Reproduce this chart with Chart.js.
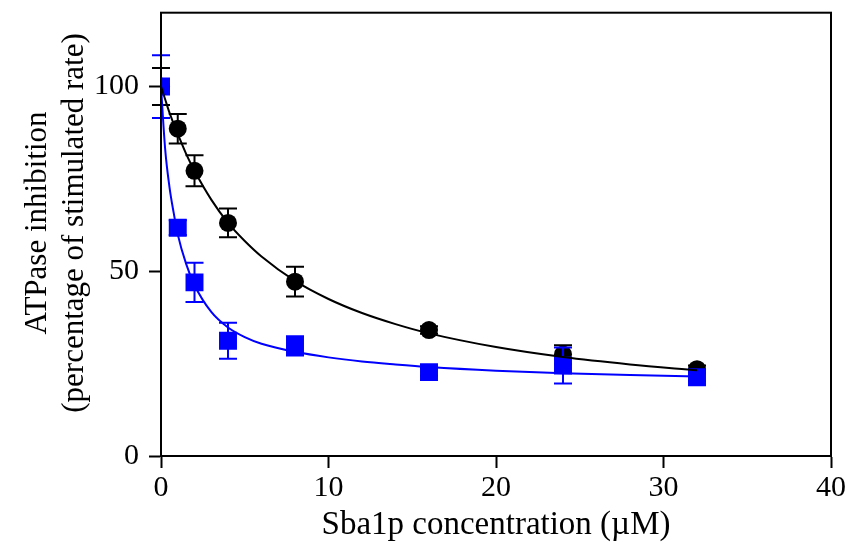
<!DOCTYPE html>
<html>
<head>
<meta charset="utf-8">
<script src="https://cdn.jsdelivr.net/npm/chart.js@4"></script>
<style>
    html, body { margin: 0; padding: 0; background: #fff; }
    #wrap { width: 855px; height: 557px; }
</style>
</head>
<body>
<div id="wrap"><canvas id="chart"></canvas></div>
<script>
// measured points (Sba1p concentration, uM)
const conc = [0, 1, 2, 4, 8, 16, 24, 32];
const blackVals = [100, 88.6, 77.2, 63.1, 47.2, 34.1, 27.5, 23.5];
const blackErr = [5, 4, 4.2, 3.9, 4, 1, 2.5, 1];
const blueVals = [100, 61.8, 47, 31.2, 29.8, 22.7, 24.5, 21.3];
const blueErr = [8.5, 2, 5.3, 4.9, 2.6, 1, 4.9, 1];

// fitted curves
const fitX = [0, 0.25, 0.5, 0.75, 1, 1.5, 2, 3, 4, 5, 6, 8, 10, 12, 14, 16, 20, 24, 28, 32];
const blackFit = [100, 96.5, 93, 90, 87.2, 81.8, 77.2, 69.4, 63.1, 58.2, 54, 47.4, 42.5, 38.7, 35.7, 33.2, 29.5, 26.8, 24.8, 23.2];
const blueFit = [100, 83, 73, 66, 60, 52, 46.3, 39, 34.8, 32.2, 30.4, 28.2, 26.7, 25.6, 24.8, 24.1, 23.1, 22.4, 21.9, 21.5];

const xTicks = [0, 10, 20, 30, 40];
const yTicks = [0, 50, 100];

const xTitle = 'Sba1p concentration (\u00b5M)';
const yTitle = ['ATPase inhibition', '(percentage of stimulated rate)'];

const serif = "'Liberation Serif', 'Times New Roman', serif";

function toPoints(xs, ys) {
    return xs.map((x, i) => ({ x: x, y: ys[i] }));
}

// error bars drawn right after each marker dataset
const errorBars = {
    id: 'errorBars',
    afterDatasetDraw(chart, args) {
        const ds = chart.data.datasets[args.index];
        if (!ds.errors) return;
        const ctx = chart.ctx;
        const xs = chart.scales.x, ys = chart.scales.y;
        ctx.save();
        ctx.strokeStyle = ds.borderColor;
        ctx.lineWidth = 2;
        ds.data.forEach((p, i) => {
            const e = ds.errors[i];
            const px = xs.getPixelForValue(p.x);
            const top = ys.getPixelForValue(p.y + e);
            const bot = ys.getPixelForValue(p.y - e);
            ctx.beginPath();
            ctx.moveTo(px, top); ctx.lineTo(px, bot);
            ctx.moveTo(px - 9, top); ctx.lineTo(px + 9, top);
            ctx.moveTo(px - 9, bot); ctx.lineTo(px + 9, bot);
            ctx.stroke();
        });
        ctx.restore();
    }
};

// closed frame around the plot area + the two-line y title
const frame = {
    id: 'frame',
    afterDraw(chart) {
        const a = chart.chartArea;
        const ctx = chart.ctx;
        ctx.save();
        ctx.strokeStyle = '#000';
        ctx.lineWidth = 2;
        ctx.strokeRect(a.left, a.top, a.right - a.left, a.bottom - a.top);

        ctx.translate(0, 223);
        ctx.rotate(-Math.PI / 2);
        ctx.fillStyle = '#000';
        ctx.font = '31px ' + serif;
        ctx.textAlign = 'center';
        ctx.textBaseline = 'middle';
        ctx.fillText(yTitle[0], 0, 38);
        ctx.fillText(yTitle[1], 0, 75);
        ctx.restore();
    }
};

new Chart(document.getElementById('chart'), {
    type: 'scatter',
    data: {
        datasets: [
            {
                label: 'black fit',
                data: toPoints(fitX, blackFit),
                showLine: true,
                borderColor: '#000',
                borderWidth: 2,
                pointRadius: 0,
                cubicInterpolationMode: 'monotone',
                order: 1
            },
            {
                label: 'blue fit',
                data: toPoints(fitX, blueFit),
                showLine: true,
                borderColor: '#0000ff',
                borderWidth: 2,
                pointRadius: 0,
                cubicInterpolationMode: 'monotone',
                order: 2
            },
            {
                label: 'black',
                data: toPoints(conc, blackVals),
                errors: blackErr,
                pointStyle: 'circle',
                pointRadius: 9,
                backgroundColor: '#000',
                borderColor: '#000',
                borderWidth: 0,
                order: 4
            },
            {
                label: 'blue',
                data: toPoints(conc, blueVals),
                errors: blueErr,
                pointStyle: 'rect',
                pointRadius: 12.7,
                backgroundColor: '#0000ff',
                borderColor: '#0000ff',
                borderWidth: 0,
                order: 3
            }
        ]
    },
    options: {
        responsive: true,
        maintainAspectRatio: false,
        animation: false,
        layout: { padding: { top: 10, right: 24, left: 0, bottom: 0 } },
        plugins: {
            legend: { display: false },
            tooltip: { enabled: false }
        },
        scales: {
            x: {
                type: 'linear',
                min: 0,
                max: 40,
                afterBuildTicks: s => { s.ticks = xTicks.map(v => ({ value: v })); },
                afterFit: s => { s.height = 101; s.paddingLeft = 0; s.paddingRight = 0; },
                grid: { drawOnChartArea: false, drawTicks: true, tickLength: 12, tickWidth: 2, tickColor: '#000' },
                border: { color: '#000', width: 2 },
                ticks: { color: '#000', font: { family: serif, size: 30 }, padding: 2, maxRotation: 0 },
                title: {
                    display: true,
                    text: xTitle,
                    color: '#000',
                    font: { family: serif, size: 33 },
                    padding: { top: 0, bottom: 12 }
                }
            },
            y: {
                type: 'linear',
                min: 0,
                max: 120,
                afterBuildTicks: s => { s.ticks = yTicks.map(v => ({ value: v })); },
                afterFit: s => { s.width = 161; s.paddingTop = 0; s.paddingBottom = 0; },
                grid: { drawOnChartArea: false, drawTicks: true, tickLength: 12, tickWidth: 2, tickColor: '#000' },
                border: { color: '#000', width: 2 },
                ticks: { color: '#000', font: { family: serif, size: 30 }, padding: 10 }
            }
        }
    },
    plugins: [errorBars, frame]
});
</script>
</body>
</html>
